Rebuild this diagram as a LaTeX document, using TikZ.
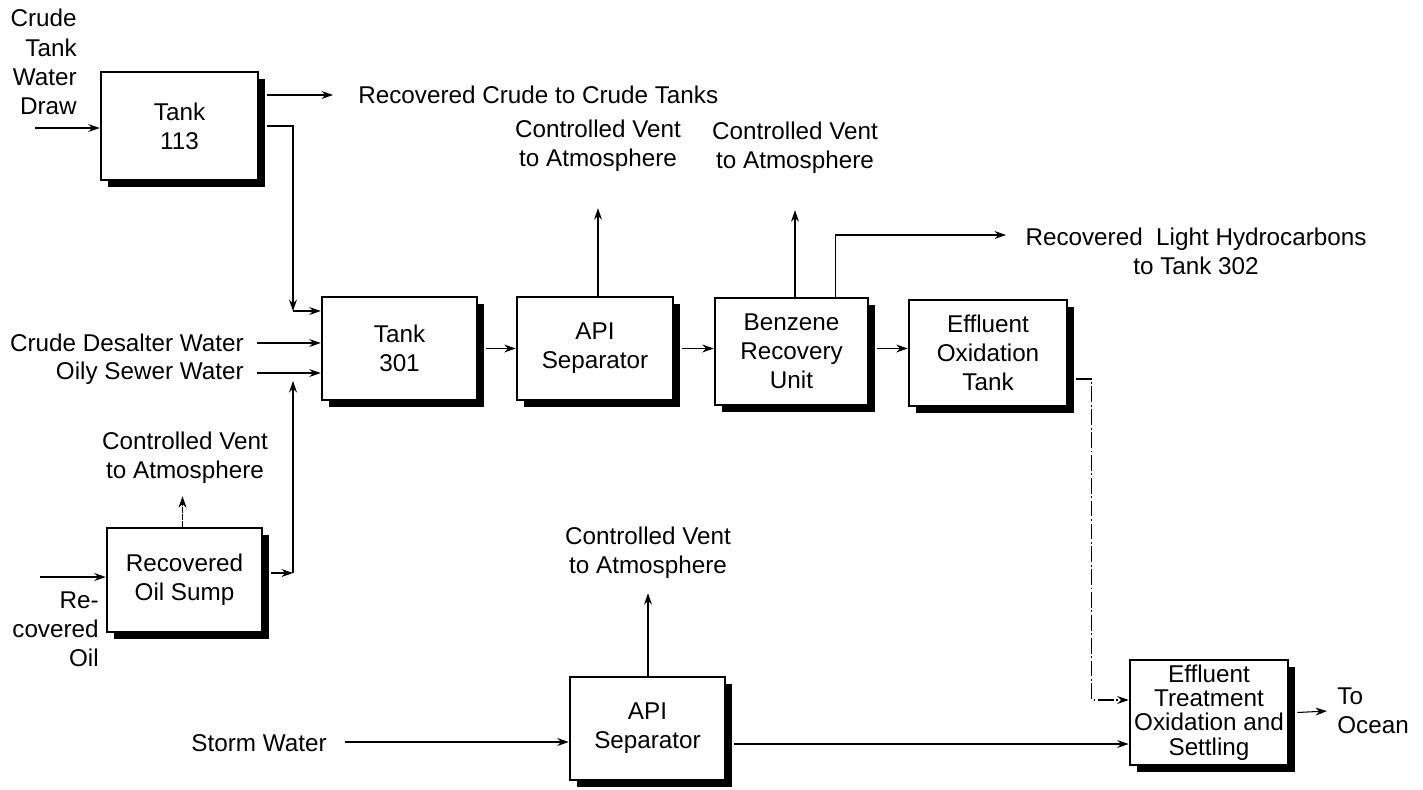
\documentclass[tikz,border=0pt]{standalone}
\usepackage{fontspec}
\setmainfont{Liberation Sans}
\usetikzlibrary{arrows.meta,shadows,calc}

\begin{document}
\begin{tikzpicture}[x=0.02cm,y=-0.02cm,
  every node/.style={font=\fontsize{13.8}{16.6}\selectfont},
  unit/.style={draw, line width=1.5pt, fill=white, align=center, inner sep=2pt,
    drop shadow={shadow xshift=4pt, shadow yshift=-4pt, fill=black, opacity=1}},
  lbl/.style={inner sep=0pt},
  flow/.style={line width=0.6pt, -{Stealth[length=6.5pt,width=4.5pt]}},
  ventflow/.style={flow, dash pattern=on 3pt off 1pt},
  dotflow/.style={flow, dash pattern=on 9pt off 1.5pt on 1pt off 1.5pt}]

\useasboundingbox (0,0) rectangle (1423,789);

% process units
\node[unit, minimum width=3.14cm, minimum height=2.16cm] (t113) at (179.5,126) {Tank\\113};
\node[unit, minimum width=3.10cm, minimum height=2.06cm] (t301) at (399.5,348.5) {Tank\\301};
\node[unit, minimum width=3.12cm, minimum height=2.06cm] (api1) at (595,348.5) {API\\Separator};
\node[unit, minimum width=3.06cm, minimum height=2.14cm] (bru) at (791.5,351.5) {Benzene\\Recovery\\Unit};
\node[unit, minimum width=3.16cm, minimum height=2.12cm] (eot) at (988,353) {Effluent\\Oxidation\\Tank};
\node[unit, minimum width=3.10cm, minimum height=2.08cm] (ros) at (184.5,580) {Recovered\\Oil Sump};
\node[unit, minimum width=3.10cm, minimum height=2.06cm] (api2) at (647.5,728.5) {API\\Separator};
\node[unit, minimum width=3.16cm, minimum height=2.10cm,
      font=\fontsize{13.8}{13.9}\selectfont] (etos) at (1209,712.5) {Effluent\\Treatment\\Oxidation and\\Settling};

% stream labels
\node[lbl, align=right, anchor=east] (ctwd) at (77,62) {Crude\\Tank\\Water\\Draw};
\node[lbl, anchor=west] (rct) at (358,95) {Recovered Crude to Crude Tanks};
\node[lbl, anchor=east] (cdw) at (244,343) {Crude Desalter Water};
\node[lbl, anchor=east] (osw) at (244,373) {Oily Sewer Water};
\node[lbl, align=center] (v0) at (185,458) {Controlled Vent\\to Atmosphere};
\node[lbl, align=right, anchor=east] (roil) at (99,629) {Re-\\covered\\Oil};
\node[lbl, align=center] (v1) at (598,146) {Controlled Vent\\to Atmosphere};
\node[lbl, align=center] (v2) at (795,148) {Controlled Vent\\to Atmosphere};
\node[lbl, align=center] (lhc) at (1196,251) {Recovered\ \ Light Hydrocarbons\\to Tank 302};
\node[lbl, align=center] (v3) at (648,553) {Controlled Vent\\to Atmosphere};
\node[lbl, anchor=east] (sw) at (327,743) {Storm Water};
\node[lbl, align=left, anchor=west] (ocean) at (1337,711) {To\\Ocean};

% junctions and free ends
\coordinate (in1) at (35,128);
\coordinate (in2) at (40,577);
\coordinate (j1) at (293,311);
\coordinate (j2) at (293,573);
\coordinate (hc) at (1006,235);

% connectors
\draw[flow] (in1) -- (in1 -| t113.west);
\draw[flow] ($(t113.east |- rct.west)+(8,0)$) -- ($(rct.west)+(-25,0)$);
\draw[flow] ($(t113.east)+(8,0)$) -| (j1);
\draw[flow] (j1) -- (j1 -| t301.west);
\draw[flow] ($(cdw.east)+(13,0)$) -- (cdw.east -| t301.west);
\draw[flow] ($(osw.east)+(13,0)$) -- (osw.east -| t301.west);
\draw[flow] (in2) -- (in2 -| ros.west);
\draw[flow] ($(ros.east |- j2)+(8,0)$) -- (j2);
\draw[flow] (j2) -- ($(j2 |- osw.east)+(0,8)$);
\draw[ventflow] ($(ros.north)+(-2,0)$) -- ($(ros.north |- v0.south)+(-2,12)$);
\draw[flow] ($(t301.east)+(8,0)$) -- (api1.west);
\draw[flow] ($(api1.east)+(8,0)$) -- (api1.east -| bru.west);
\draw[flow] ($(bru.east)+(8,-3)$) -- ($(bru.east -| eot.west)+(0,-3)$);
\draw[flow] (v1.south |- api1.north) -- ($(v1.south)+(0,36)$);
\draw[flow] (v2.south |- bru.north) -- ($(v2.south)+(0,36)$);
\draw[flow] ($(bru.north)+(44,0)$) |- (hc);
\draw[dotflow] ($(eot.east)+(8,26)$) -| ($(etos.west)+(-37,-12.5)$) -- ($(etos.west)+(0,-12.5)$);
\coordinate (s2) at ($(api2.east)+(8,15.5)$);
\draw[flow] (s2) -- (s2 -| etos.west);
\draw[flow] ($(etos.east)+(8,0)$) -- ($(ocean.west)+(-10,0)$);
\draw[flow] ($(sw.east)+(18,-1)$) -- ($(sw.east -| api2.west)+(0,-1)$);
\draw[flow] (v3.south |- api2.north) -- ($(v3.south)+(0,14)$);
\end{tikzpicture}
\end{document}
